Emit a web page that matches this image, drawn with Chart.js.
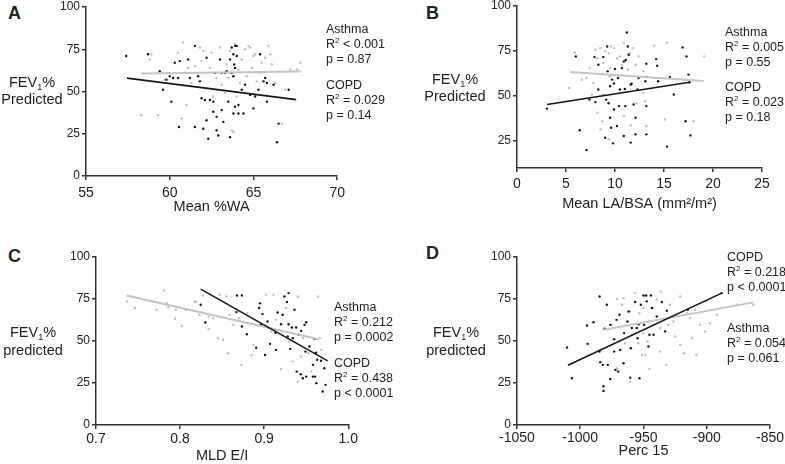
<!DOCTYPE html>
<html>
<head>
<meta charset="utf-8">
<script src="https://cdn.jsdelivr.net/npm/chart.js@4.4.1/dist/chart.umd.min.js"></script>
<style>
  body { margin: 0; background: #fff; width: 785px; height: 464px; position: relative; overflow: hidden;
         font-family: "Liberation Sans", Arial, sans-serif; color: #222; }
  canvas { position: absolute; }
  .lbl { position: absolute; white-space: nowrap; }
  .letter { font-weight: bold; font-size: 18px; line-height: 18px; }
  .ytitle { font-size: 14.5px; line-height: 17px; text-align: center; width: 70px; }
  .stat { font-size: 12.5px; line-height: 15px; }
  sup { font-size: 8px; vertical-align: 5px; line-height: 0; }
  sub { font-size: 9px; vertical-align: -3px; line-height: 0; }
</style>
</head>
<body>
<canvas id="chartA"></canvas>
<canvas id="chartB"></canvas>
<canvas id="chartC"></canvas>
<canvas id="chartD"></canvas>

<div class="lbl letter" style="left:8px;top:4px">A</div>
<div class="lbl letter" style="left:426px;top:4px">B</div>
<div class="lbl letter" style="left:8px;top:247px">C</div>
<div class="lbl letter" style="left:426px;top:244px">D</div>

<div class="lbl ytitle" style="left:-3px;top:74px">FEV<sub>1</sub>%<br>Predicted</div>
<div class="lbl ytitle" style="left:420px;top:71px">FEV<sub>1</sub>%<br>Predicted</div>
<div class="lbl ytitle" style="left:-2px;top:323px;line-height:18px">FEV<sub>1</sub>%<br>predicted</div>
<div class="lbl ytitle" style="left:421px;top:323px;line-height:18px">FEV<sub>1</sub>%<br>predicted</div>

<div class="lbl stat" style="left:326px;top:22px">Asthma<br>R<sup>2</sup> &lt; 0.001<br>p = 0.87</div>
<div class="lbl stat" style="left:326px;top:78px">COPD<br>R<sup>2</sup> = 0.029<br>p = 0.14</div>
<div class="lbl stat" style="left:725px;top:25px">Asthma<br>R<sup>2</sup> = 0.005<br>p = 0.55</div>
<div class="lbl stat" style="left:725px;top:80px">COPD<br>R<sup>2</sup> = 0.023<br>p = 0.18</div>
<div class="lbl stat" style="left:334px;top:300px">Asthma<br>R<sup>2</sup> = 0.212<br>p = 0.0002</div>
<div class="lbl stat" style="left:334px;top:356px">COPD<br>R<sup>2</sup> = 0.438<br>p &lt; 0.0001</div>
<div class="lbl stat" style="left:727px;top:250px">COPD<br>R<sup>2</sup> = 0.218<br>p &lt; 0.0001</div>
<div class="lbl stat" style="left:727px;top:321px">Asthma<br>R<sup>2</sup> = 0.054<br>p = 0.061</div>

<script>
// panel A: Mean %WA
const aCopd = [[57.4,71],[58.7,72],[59.4,62],[59.6,51],[59.8,57],[60.0,59],[60.2,58],[60.1,44],[60.3,67],[60.5,58],
  [60.55,29],[60.6,68],[60.9,61],[61.1,69],[61.2,58],[61.5,77],[61.5,29],[61.7,59],[61.8,56],[61.9,46],[62.0,28],
  [62.1,45],[62.2,70],[62.2,33],[62.3,22],[62.4,45],[62.6,44],[62.6,38],[62.7,61],[62.8,35],[62.8,27],[62.9,24],
  [63.0,69],[63.1,61],[63.1,39],[63.2,32],[63.3,61],[63.4,62],[63.5,44],[63.6,69],[63.6,23],[63.7,76],[63.7,61],
  [63.8,72],[63.8,59],[63.8,37],[63.85,66],[63.9,77],[63.9,64],[63.9,41],[64.0,71],[64.0,77],[64.1,37],[64.1,42],
  [64.3,51],[64.4,37],[64.5,54],[64.8,48],[65.0,40],[65.1,47],[65.3,51],[65.4,72],[65.6,56],[65.7,58],[65.8,44],
  [65.8,55],[66.2,54],[66.4,20],[66.5,31],[67.1,51]];
const aAsthma = [[58.3,36],[58.8,69],[58.9,72],[59.3,36],[59.7,57],[60.2,58],[60.5,73],[60.7,34],[60.8,79],[61.0,42],
  [61.1,64],[61.3,55],[61.5,65],[61.8,76],[61.9,68],[62.0,74],[62.2,52],[62.4,64],[62.5,73],[62.6,47],[62.8,58],
  [63.0,76],[63.1,54],[63.3,49],[63.4,66],[63.5,58],[63.6,74],[63.7,27],[63.8,26],[63.9,78],[64.0,47],[64.1,63],
  [64.2,55],[64.3,69],[64.5,75],[64.6,59],[64.7,77],[64.8,76],[64.9,64],[65.0,71],[65.1,72],[65.2,56],[65.4,61],
  [65.5,67],[65.7,70],[65.9,77],[66.0,72],[66.1,66],[66.3,55],[66.7,31],[66.9,51],[67.2,63],[67.6,63],[67.8,67]];
const aCopdFit = [[57.45,57.9],[67.55,45.2]];
const aAsthmaFit = [[58.3,60.7],[67.85,61.9]];

// panel B: Mean LA/BSA
const bCopd = [[3.06,43],[6.0,72],[6.4,31],[7.1,20],[7.4,48],[7.9,71.6],[8.0,46.6],[8.3,67.4],[8.3,53.6],[8.8,71.6],
  [9.0,26.8],[9.1,48],[9.2,77.5],[9.25,63.7],[9.35,46],[9.5,37.9],[9.5,55.4],[9.6,32.4],[9.7,59.1],[9.8,23.7],
  [9.9,42.5],[9.9,57],[10.0,65],[10.2,33.3],[10.3,60],[10.4,44.4],[10.5,53.6],[10.7,65.5],[10.9,69.2],[10.9,27.8],
  [11.0,53.9],[11.05,44.4],[11.1,70],[11.2,85.3],[11.3,77.5],[11.4,72.9],[11.6,24.1],[11.6,56.3],[11.7,56.9],
  [11.9,45.3],[12.1,37.9],[12.1,28.7],[12.3,53.6],[12.4,60],[13.1,58.2],[13.2,67.9],[13.2,60.6],[13.2,44.4],
  [13.2,28.7],[14.2,70.5],[14.3,66.8],[14.4,58.2],[15.3,21.9],[15.6,60.6],[16.0,50.8],[16.9,77],[17.2,36],[17.3,72],
  [17.5,61.9],[17.6,57.6],[17.7,28.1]];
const bAsthma = [[5.3,54.5],[5.9,74],[6.6,59],[7.1,60],[7.4,65.5],[7.65,50.8],[7.8,57.3],[8.0,75.7],[8.2,40.7],
  [8.2,71],[8.5,76.6],[8.5,31.4],[8.7,36],[8.8,68.3],[8.8,50.8],[9.0,74.8],[9.35,73.8],[9.35,26],[9.5,65.5],
  [9.5,61],[9.6,77.5],[9.9,76.6],[10.2,71],[10.5,72],[10.7,67.4],[10.9,79.4],[10.9,38.8],[11.3,64.6],[11.5,73.8],
  [11.6,33.7],[11.8,76.6],[12.1,67.4],[12.2,46],[12.4,72],[12.9,63.7],[12.9,51.7],[13.1,47],[13.2,33.3],
  [14.0,78],[15.1,37],[15.3,79.7],[18.0,36],[19.1,72]];
const bCopdFit = [[3.06,45.3],[17.6,57.6]];
const bAsthmaFit = [[5.44,63.3],[19.05,58.4]];

// panel C: MLD E/I
const cCopd = [[0.8245,71.6],[0.830,61],[0.8676,77.1],[0.8735,77.1],[0.8735,58.6],[0.8794,54],[0.867,67.2],
  [0.8905,46],[0.894,69.6],[0.895,72.4],[0.8964,59.6],[0.898,66],[0.901,41.7],[0.904,61.6],[0.907,48.3],
  [0.9134,54.7],[0.914,44.7],[0.916,67],[0.920,60],[0.922,65.6],[0.924,76.5],[0.927,73.2],[0.928,52.7],[0.929,78.5],
  [0.929,60],[0.931,45.3],[0.933,58],[0.934,51.7],[0.936,68.6],[0.938,58],[0.9387,31.8],[0.941,53.7],[0.9435,30.2],
  [0.944,56],[0.946,27.8],[0.948,59.6],[0.949,43.7],[0.95,28.8],[0.950,61.2],[0.9537,46.7],[0.958,35.8],
  [0.958,28.8],[0.9597,51.3],[0.9605,28.8],[0.9617,43.1],[0.962,24.9],[0.963,38.8],[0.9676,38.2],[0.9696,19.9],
  [0.9715,33.8],[0.973,23.9]];
const cAsthma = [[0.7368,73.5],[0.7463,69.6],[0.772,68.6],[0.781,80],[0.784,72.6],[0.786,70],[0.794,63.2],
  [0.795,68.6],[0.802,59.0],[0.807,68.6],[0.817,73.5],[0.819,73.2],[0.823,65.6],[0.827,77.1],[0.834,64.4],
  [0.834,57.2],[0.839,63.6],[0.845,51.7],[0.847,77.5],[0.851,50.7],[0.855,76.5],[0.857,42.7],[0.859,65.6],
  [0.863,59.6],[0.87,63.6],[0.873,35.8],[0.88,66.6],[0.885,41.7],[0.887,47.7],[0.894,59.6],[0.902,77.5],
  [0.908,55.7],[0.911,77.5],[0.914,62.6],[0.92,33.4],[0.926,69.6],[0.93,49.7],[0.934,37.8],[0.94,76.5],
  [0.94,25.8],[0.944,40.8],[0.946,51.7],[0.952,42.7],[0.956,31.8],[0.964,76.5],[0.966,51.7],[0.968,44.7]];
const cCopdFit = [[0.8245,80.9],[0.9755,38.2]];
const cAsthmaFit = [[0.7364,77.1],[0.9648,51.1]];

// panel D: Perc 15
const dCopd = [[-1010.5,46.1],[-1006.6,27.8],[-994.7,59.2],[-994.2,48.3],[-989.5,61.2],[-984.7,76.5],[-984.7,43.7],
  [-984.2,37.4],[-982.1,35.8],[-981.6,23.1],[-981.6,20.3],[-980.8,57.3],[-979,71.6],[-978.2,35.8],[-976.3,59.6],
  [-976.3,27.4],[-973.2,51.1],[-973.2,43.7],[-972.1,32.8],[-971.3,62.6],[-970,31.8],[-969,65.6],[-968.4,44.7],
  [-965.8,36.8],[-965.3,54.7],[-962.6,61.6],[-961.8,67.6],[-960.5,28.2],[-960,45.7],[-959.2,57.7],[-956.6,73.2],
  [-955.3,57.7],[-954.7,51.7],[-953.9,60],[-953.2,27.8],[-952.1,71.6],[-950,77.1],[-949.5,59.6],[-947.9,77.1],
  [-947.4,73.6],[-946.1,46.7],[-945.3,53.7],[-944.2,77.1],[-943.4,69.6],[-942.1,53.7],[-939.5,64.6],[-935.5,73.2],
  [-932.9,55.7],[-931.6,68],[-915,68.6],[-888.2,78.5]];
const dAsthma = [[-975,59.6],[-971,75],[-971,33.8],[-967.1,71.6],[-965.8,75.5],[-964.5,48.7],[-960.5,67.6],
  [-960.5,25.8],[-959.2,53.7],[-956.6,78.5],[-954,48.7],[-953.2,66.6],[-951.3,41.7],[-950,54.7],[-950,69.6],
  [-948.7,41.7],[-946.8,49.7],[-946.1,61.6],[-945.3,33.4],[-942.1,69.6],[-942.1,59.6],[-939.5,74.6],[-936.8,57.7],
  [-936.8,43.7],[-936.3,79.5],[-934,62.6],[-932,35.8],[-930.3,59.6],[-929,71.6],[-926.3,61.6],[-925,52.7],
  [-921,76.5],[-921,47.7],[-917.9,42.7],[-915.8,66.6],[-913.2,63.6],[-911.8,51.7],[-909.2,68.6],[-908.2,41.7],
  [-905.3,59.6],[-901.3,55.7],[-900,73.6],[-897.4,60.6],[-892,65.6],[-876.3,71.6],[-863.2,71.6]];
const dCopdFit = [[-1009.7,35.6],[-888.2,78.5]];
const dAsthmaFit = [[-982.4,56.5],[-863.2,73.0]];

const BLACK = '#151515';
const GREY = '#bdbdbd';
const toXY = arr => arr.map(p => ({ x: p[0], y: p[1] }));

function sets(copd, asthma, copdFit, asthmaFit) {
  return [
    { data: toXY(copdFit), showLine: true, borderColor: BLACK, borderWidth: 1.6, pointRadius: 0 },
    { data: toXY(asthmaFit), showLine: true, borderColor: '#c4c4c4', borderWidth: 2, pointRadius: 0 },
    { data: toXY(copd), backgroundColor: BLACK, borderWidth: 0, pointRadius: 1.2 },
    { data: toXY(asthma), backgroundColor: GREY, borderWidth: 0, pointRadius: 1.2 }
  ];
}

function panel(id, box, xr, ymin, xTitle, fmt, datasets) {
  const el = document.getElementById(id);
  el.style.left = box.L + 'px';
  el.style.top = box.T + 'px';
  el.width = box.W;
  el.height = box.H;
  new Chart(el, {
    type: 'scatter',
    data: { datasets: datasets },
    options: {
      responsive: false,
      animation: false,
      devicePixelRatio: 1,
      layout: { padding: { left: 0, top: box.pt, right: box.pr, bottom: 0 } },
      plugins: { legend: { display: false }, tooltip: { enabled: false } },
      scales: {
        x: {
          type: 'linear', min: xr[0], max: xr[1],
          afterFit: s => { s.height = box.xh; },
          ticks: { stepSize: xr[2], padding: box.xpad, autoSkip: false, maxRotation: 0,
                   font: { family: 'Liberation Sans', size: 14 }, color: '#222', callback: fmt },
          grid: { drawOnChartArea: false, tickLength: 4, color: '#333', lineWidth: 1.5 },
          border: { color: '#333', width: 1.5 },
          title: { display: true, text: xTitle, padding: 0, color: '#222',
                   font: { family: 'Liberation Sans', size: 14.5 } }
        },
        y: {
          min: ymin, max: 100,
          afterFit: s => { s.width = box.yw; },
          ticks: { stepSize: 25, includeBounds: false, padding: 2,
                   font: { family: 'Liberation Sans', size: 12 }, color: '#222' },
          grid: { drawOnChartArea: false, tickLength: 4, color: '#333', lineWidth: 1.5 },
          border: { color: '#333', width: 1.5 }
        }
      }
    }
  });
}

const plain = v => String(v);

panel('chartA', { L: 30, T: -3, W: 320, H: 219, pt: 10, pr: 10, yw: 56, xh: 40, xpad: 5 },
  [55, 70, 5], 0, 'Mean %WA', plain, sets(aCopd, aAsthma, aCopdFit, aAsthmaFit));
panel('chartB', { L: 480, T: -4, W: 295, H: 217, pt: 10, pr: 13, yw: 37, xh: 45, xpad: 4 },
  [0, 25, 5], 10, 'Mean LA/BSA (mm²/m²)', plain, sets(bCopd, bAsthma, bCopdFit, bAsthmaFit));
panel('chartC', { L: 40, T: 247, W: 320, H: 218, pt: 10, pr: 11, yw: 56, xh: 40, xpad: 2 },
  [0.7, 1.0, 0.1], 0, 'MLD E/I', v => v.toFixed(1), sets(cCopd, cAsthma, cCopdFit, cAsthmaFit));
panel('chartD', { L: 480, T: 247, W: 305, H: 213, pt: 10, pr: 15, yw: 37, xh: 35, xpad: 1 },
  [-1050, -850, 50], 0, 'Perc 15', plain, sets(dCopd, dAsthma, dCopdFit, dAsthmaFit));
</script>
</body>
</html>
